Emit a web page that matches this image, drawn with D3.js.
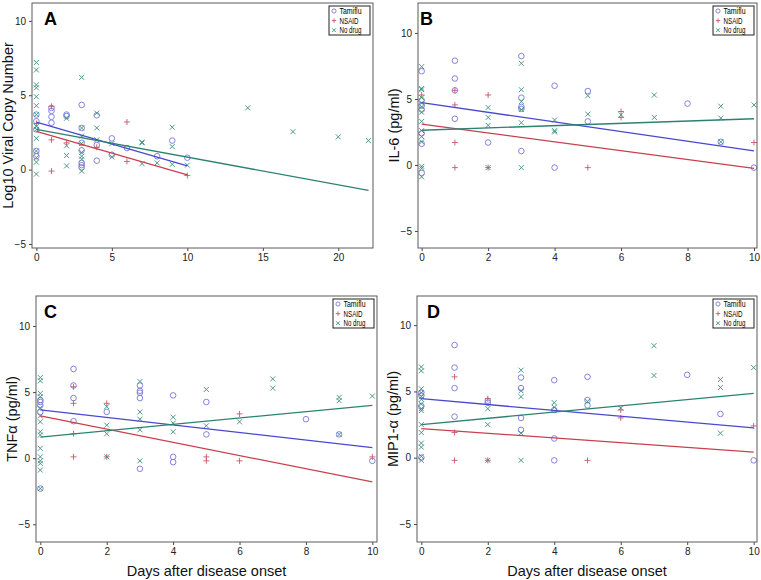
<!DOCTYPE html>
<html>
<head>
<meta charset="utf-8">
<script src="https://cdn.jsdelivr.net/npm/d3@7"></script>
<style>
  body { margin: 0; background: #fff; }
  text { font-family: "Liberation Sans", Arial, sans-serif; }
</style>
</head>
<body>
<div id="chart"></div>
<script>
// groups and colours
var groups = ["Tamiflu", "NSAID", "No drug"];
var markColor = { "Tamiflu": "#7676d8", "NSAID": "#cc5866", "No drug": "#3a8f7e" };
var lineColor = { "Tamiflu": "#4848d0", "NSAID": "#c8404e", "No drug": "#2c8270" };

var xTicksA = [0, 5, 10, 15, 20];
var xTicks = [0, 2, 4, 6, 8, 10];
var yTicks = [-5, 0, 5, 10];

// A: viral copy number  [day, value]
var viralTamiflu = [[0,3.7],[0,3.25],[0,2.7],[0,1.25],[0,0.9],[1,4.15],[1,3.95],[1,3.55],[1,3.15],
  [2,3.7],[2,3.6],[3,4.35],[3,2.8],[3,1.8],[3,1.3],[3,0.45],[3,0.3],[3,0.15],[4,3.65],[4,1.65],[4,0.6],
  [5,2.1],[5,1.0],[6,1.45],[8,0.9],[9,1.95],[10,0.8]];
var viralNsaid = [[0,3.1],[1,4.25],[1,2.0],[1,-0.1],[2,1.8],[4,1.5],[6,3.2],[6,0.55],[10,-0.4]];
var viralNoDrug = [[0,7.2],[0,6.7],[0,5.7],[0,5.5],[0,4.9],[0,4.3],[0,3.7],[0,2.9],[0,2.7],[0,2.1],
  [0,1.25],[0,0.8],[0,0.5],[0,-0.3],[2,3.45],[2,1.6],[2,0.95],[2,0.25],[3,6.2],[3,2.8],[3,2.25],[3,1.75],
  [3,1.15],[3,0.9],[3,0.7],[3,-0.1],[4,3.8],[4,2.8],[4,2.0],[5,1.75],[5,0.85],[7,1.85],[7,1.8],[7,0.4],
  [8,0.45],[9,2.85],[9,1.55],[9,0.35],[10,0.3],[14,4.15],[17,2.55],[20,2.2],[22,1.95]];

// B: IL-6
var il6Tamiflu = [[0,7.1],[0,4.9],[0,4.5],[0,4.2],[0,2.4],[0,1.6],[0,-0.6],[1,7.9],[1,6.55],[1,5.65],[1,3.5],
  [2,1.7],[3,8.25],[3,5.1],[3,4.4],[3,4.25],[3,1.05],[4,6.0],[4,-0.2],[5,5.6],[5,3.3],[8,4.65],[9,1.75],[10,-0.2]];
var il6Nsaid = [[0,5.3],[1,5.65],[1,4.55],[1,1.7],[1,-0.2],[2,5.3],[2,-0.2],[5,-0.2],[6,4.05],[6,3.6],[10,1.7]];
var il6NoDrug = [[0,7.45],[0,5.8],[0,5.7],[0,5.1],[0,4.7],[0,4.4],[0,4.0],[0,3.3],[0,2.6],[0,2.15],[0,1.75],
  [0,-0.1],[0,-0.25],[0,-0.9],[2,4.35],[2,3.6],[2,3.0],[2,-0.2],[3,7.7],[3,5.7],[3,4.8],[3,4.2],[3,3.2],[3,-0.2],
  [4,3.4],[4,2.6],[4,2.5],[5,5.25],[5,3.85],[6,3.8],[7,5.3],[7,3.6],[9,4.45],[9,3.55],[9,1.75],[10,4.55]];

// C: TNFa
var tnfTamiflu = [[0,4.4],[0,4.25],[0,4.0],[0,3.5],[0,-2.3],[1,6.75],[1,5.5],[1,4.55],[1,2.8],[2,3.5],
  [3,5.5],[3,5.1],[3,4.95],[3,4.55],[3,-0.8],[4,4.75],[4,0.1],[4,-0.3],[5,4.25],[5,1.8],[8,2.95],[9,1.8],[10,-0.2]];
var tnfNsaid = [[1,5.4],[1,4.15],[1,1.85],[1,0.1],[2,4.15],[2,0.1],[5,0.1],[5,-0.2],[6,3.35],[6,-0.2],[10,0.1]];
var tnfNoDrug = [[0,6.1],[0,5.85],[0,4.9],[0,4.65],[0,3.8],[0,3.2],[0,2.75],[0,2.0],[0,1.75],[0,0.75],[0,0.1],
  [0,-0.2],[0,-0.4],[0,-0.9],[0,-2.3],[2,3.9],[2,2.5],[2,1.85],[2,0.1],[3,5.8],[3,3.5],[3,2.95],[3,2.15],[3,-0.2],
  [4,3.1],[4,2.65],[4,2.0],[5,5.2],[5,2.45],[6,2.75],[7,6.0],[7,5.3],[9,4.6],[9,4.35],[9,1.8],[10,4.7]];

// D: MIP1-a
var mipTamiflu = [[0,4.9],[0,4.7],[0,3.9],[0,0.0],[1,8.5],[1,6.8],[1,5.25],[1,3.1],[2,4.3],[2,4.15],
  [3,6.05],[3,5.25],[3,3.0],[3,2.1],[4,5.85],[4,3.6],[4,1.45],[4,-0.2],[5,6.1],[5,4.35],[5,3.95],[8,6.25],[9,3.3],[10,-0.2]];
var mipNsaid = [[1,6.1],[1,1.9],[1,-0.2],[2,4.45],[2,-0.2],[5,-0.2],[6,3.6],[6,3.0],[10,2.4]];
var mipNoDrug = [[0,6.85],[0,6.55],[0,5.2],[0,4.9],[0,4.6],[0,4.4],[0,4.05],[0,3.7],[0,3.55],[0,2.5],[0,1.9],
  [0,1.1],[0,0.8],[0,0.1],[0,-0.2],[2,3.7],[2,2.5],[2,-0.2],[3,6.6],[3,5.05],[3,4.6],[3,1.85],[3,-0.2],
  [4,4.15],[4,3.8],[5,4.25],[6,3.75],[7,8.45],[7,6.2],[9,5.9],[9,5.3],[9,1.85],[10,6.8]];

// fitted lines: [x0, y0, x1, y1] for Tamiflu, NSAID, No drug
var viralFits = [[0,3.2,10,0.25],[0,2.57,10,-0.35],[0,2.7,22,-1.4]];
var il6Fits = [[0,4.72,10,1.06],[0,3.1,10,-0.25],[0,2.63,10,3.5]];
var tnfFits = [[0,3.65,10,0.8],[0,3.2,10,-1.8],[0,1.6,10,4.0]];
var mipFits = [[0,4.45,10,2.25],[0,2.2,10,0.42],[0,2.5,10,4.85]];

var panels = [
  { letter: "A", ylabel: "Log10 Viral Copy Number", box: [32, 3, 373, 248], xd: [-0.29, 22.3], yd: [-5.27, 11.2],
    xt: xTicksA, series: [viralTamiflu, viralNsaid, viralNoDrug], fits: viralFits, lx: 12, xtitle: false },
  { letter: "B", ylabel: "IL-6 (pg/ml)", box: [418, 3, 757, 248], xd: [-0.11, 10.09], yd: [-6.29, 12.27],
    xt: xTicks, series: [il6Tamiflu, il6Nsaid, il6NoDrug], fits: il6Fits, lx: 2, xtitle: false },
  { letter: "C", ylabel: "TNF\u03b1 (pg/ml)", box: [36, 296, 377, 542], xd: [-0.13, 10.14], yd: [-6.34, 12.27],
    xt: xTicks, series: [tnfTamiflu, tnfNsaid, tnfNoDrug], fits: tnfFits, lx: 8, xtitle: true },
  { letter: "D", ylabel: "MIP1-\u03b1 (pg/ml)", box: [417, 296, 757, 542], xd: [-0.13, 10.1], yd: [-6.36, 12.2],
    xt: xTicks, series: [mipTamiflu, mipNsaid, mipNoDrug], fits: mipFits, lx: 10, xtitle: true }
];

var svg = d3.select("#chart").append("svg")
    .attr("width", 761)
    .attr("height", 580);

function drawMark(g, type, x, y, color, k) {
  k = k || 1;
  if (type === "Tamiflu") {
    g.append("circle").attr("cx", x).attr("cy", y).attr("r", 2.8 * k)
      .attr("fill", "none").attr("stroke", color).attr("stroke-width", 0.9);
  } else if (type === "NSAID") {
    var s = 3 * k;
    g.append("path").attr("d", `M${x-s},${y}H${x+s}M${x},${y-s}V${y+s}`)
      .attr("stroke", color).attr("stroke-width", 0.9);
  } else {
    var c = 2.5 * k;
    g.append("path").attr("d", `M${x-c},${y-c}L${x+c},${y+c}M${x-c},${y+c}L${x+c},${y-c}`)
      .attr("stroke", color).attr("stroke-width", 0.9);
  }
}

panels.forEach(function(p) {
  var [l, t, r, b] = p.box;
  var x = d3.scaleLinear().domain(p.xd).range([l, r]);
  var y = d3.scaleLinear().domain(p.yd).range([b, t]);
  var g = svg.append("g");

  // axes
  g.append("g").attr("transform", `translate(${l},0)`)
    .call(d3.axisLeft(y).tickValues(yTicks).tickSize(3).tickPadding(3))
    .call(s => s.select(".domain").remove())
    .call(s => s.selectAll("text").attr("font-size", 10).attr("fill", "#222"))
    .call(s => s.selectAll("line").attr("stroke", "#444"));
  g.append("g").attr("transform", `translate(0,${b})`)
    .call(d3.axisBottom(x).tickValues(p.xt).tickSize(3).tickPadding(3))
    .call(s => s.select(".domain").remove())
    .call(s => s.selectAll("text").attr("font-size", 10).attr("fill", "#222"))
    .call(s => s.selectAll("line").attr("stroke", "#444"));

  // points
  var pts = g.append("g");
  p.series.forEach(function(arr, i) {
    var grp = groups[i];
    arr.forEach(function(d) { drawMark(pts, grp, x(d[0]), y(d[1]), markColor[grp]); });
  });

  // fit lines
  p.fits.forEach(function(f, i) {
    g.append("line")
      .attr("x1", x(f[0])).attr("y1", y(f[1]))
      .attr("x2", x(f[2])).attr("y2", y(f[3]))
      .attr("stroke", lineColor[groups[i]]).attr("stroke-width", 1.3);
  });

  // frame
  g.append("rect").attr("x", l).attr("y", t).attr("width", r - l).attr("height", b - t)
    .attr("fill", "none").attr("stroke", "#5a5a5a").attr("stroke-width", 1);

  // panel letter
  g.append("text").attr("x", l + p.lx).attr("y", t + 22)
    .attr("font-size", 18).attr("font-weight", "bold").attr("fill", "#000")
    .text(p.letter);

  // legend
  var lg = g.append("g").attr("transform", `translate(${r - 44},${t + 3})`);
  lg.append("rect").attr("width", 41).attr("height", 29)
    .attr("fill", "#fff").attr("stroke", "#222").attr("stroke-width", 1);
  groups.forEach(function(grp, i) {
    var yy = 5 + i * 9.6;
    drawMark(lg, grp, 5, yy, markColor[grp], 0.75);
    lg.append("text").attr("x", 10.5).attr("y", yy + 3.2)
      .attr("font-size", 9.5).attr("fill", "#000")
      .attr("textLength", grp === "NSAID" ? 19 : 22).attr("lengthAdjust", "spacingAndGlyphs")
      .text(grp);
  });

  // y label
  g.append("text")
    .attr("transform", `translate(${l - 19},${(t + b) / 2}) rotate(-90)`)
    .attr("text-anchor", "middle").attr("font-size", 14.5).attr("fill", "#111")
    .text(p.ylabel);

  if (p.xtitle) {
    g.append("text").attr("x", (l + r) / 2).attr("y", 576)
      .attr("text-anchor", "middle").attr("font-size", 14.5).attr("fill", "#111")
      .text("Days after disease onset");
  }
});
</script>
</body>
</html>
